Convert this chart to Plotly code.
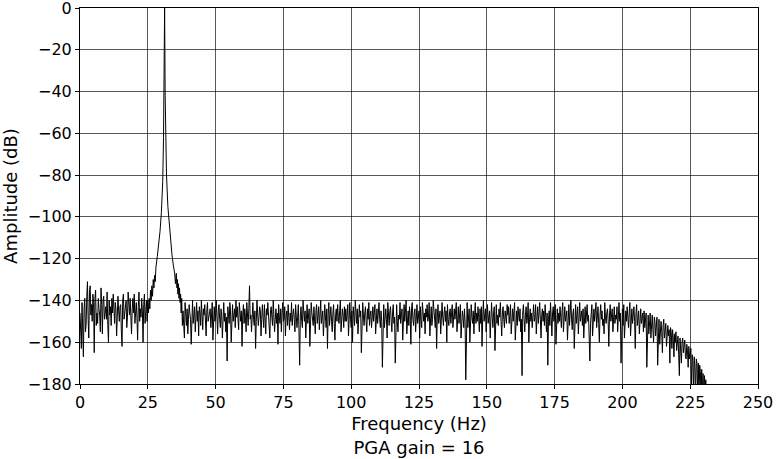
import numpy as np
import plotly.graph_objects as go

BIN = 0.25  # FFT bin spacing (Hz)

# Noise floor below the tone, 0.0 .. 25.0 Hz
floor_low_start = 0.0
floor_low = [
    -146, -158, -163, -141, -150, -167, -144, -139, -155, -152,
    -138, -131, -149, -158, -136, -133, -147, -142, -150, -137,
    -141, -165, -139, -135, -152, -146, -151, -139, -144, -147,
    -155, -134, -142, -156, -140, -138, -149, -145, -143, -149,
    -136, -152, -160, -140, -147, -143, -152, -139, -146, -137,
    -148, -151, -141, -144, -157, -149, -138, -145, -150, -143,
    -142, -155, -162, -140, -137, -149, -146, -141, -140, -153,
    -148, -136, -143, -147, -139, -151, -156, -144, -139, -146,
    -137, -151, -145, -141, -148, -159, -143, -136, -150, -144,
    -148, -139, -145, -160, -142, -137, -151, -146, -140, -150,
    -140,
]

# Tone around 31 Hz (with a little noise on its skirts)
peak_freq = [25.25, 25.5, 25.75, 26.0, 26.25, 26.5, 26.75, 27.0, 27.25, 27.5,
             27.75, 28.0, 28.5, 29.0, 29.5, 30.0, 30.5, 30.8, 31.0, 31.2,
             31.4, 31.6, 31.9, 32.4, 32.9, 33.4, 33.9, 34.4, 34.9, 35.2,
             35.5, 35.75, 35.9, 36.1, 36.3, 36.5, 36.7, 36.9, 37.1, 37.3,
             37.5, 37.75]
peak_amp = [-146, -139, -144, -135, -140, -133, -138, -130, -134, -128,
            -131, -124, -119, -114, -107, -98, -83, -62, -42, 0,
            -42, -62, -80, -95, -104, -112, -118, -123, -127, -132,
            -127, -134, -130, -137, -132, -139, -134, -141, -137, -146,
            -139, -152]

# Noise floor above the tone, 38.0 .. 207.75 Hz
floor_mid_start = 38.0
floor_mid = [
    -145, -152, -158, -141, -147, -152, -144, -156, -149, -142,
    -146, -149, -161, -143, -140, -151, -147, -143, -155, -148,
    -141, -150, -145, -157, -143, -146, -152, -140, -149, -154,
    -144, -147, -142, -153, -157, -145, -141, -150, -148, -144,
    -144, -153, -147, -141, -159, -146, -143, -150, -148, -140,
    -152, -156, -145, -142, -149, -153, -144, -147, -158, -143,
    -141, -150, -146, -155, -148, -169, -143, -147, -151, -141,
    -145, -160, -149, -142, -150, -146, -144, -153, -140, -148,
    -143, -149, -154, -141, -146, -150, -145, -162, -147, -142,
    -151, -144, -148, -155, -141, -147, -152, -144, -133, -149,
    -147, -155, -143, -141, -149, -152, -145, -163, -150, -140,
    -146, -152, -148, -143, -145, -157, -149, -142, -148, -153,
    -142, -150, -156, -144, -147, -141, -149, -153, -158, -145,
    -143, -148, -152, -140, -147, -155, -149, -144, -151, -146,
    -161, -142, -148, -151, -144, -155, -146, -141, -150, -149,
    -143, -157, -147, -145, -152, -142, -148, -154, -146, -150,
    -141, -152, -147, -144, -149, -155, -142, -146, -153, -148,
    -142, -155, -171, -147, -143, -150, -153, -140, -146, -150,
    -145, -158, -149, -142, -151, -147, -144, -162, -150, -141,
    -146, -149, -152, -143, -148, -156, -145, -142, -151, -147,
    -143, -154, -148, -140, -151, -146, -145, -157, -149, -142,
    -148, -153, -144, -163, -147, -141, -152, -149, -143, -150,
    -155, -146, -142, -151, -159, -147, -144, -150, -142, -148,
    -151, -145, -140, -155, -149, -144, -147, -153, -143, -150,
    -144, -150, -147, -142, -157, -148, -141, -149, -153, -145,
    -160, -143, -148, -152, -140, -146, -151, -144, -156, -149,
    -142, -148, -145, -165, -150, -141, -147, -152, -146, -143,
    -150, -155, -144, -149, -141, -152, -147, -145, -153, -148,
    -143, -150, -146, -142, -156, -148, -144, -151, -147, -141,
    -149, -153, -145, -150, -172, -146, -142, -153, -148, -144,
    -149, -158, -141, -147, -152, -145, -143, -150, -155, -146,
    -142, -151, -148, -170, -146, -142, -150, -155, -147, -149,
    -141, -151, -147, -144, -159, -148, -142, -150, -146, -140,
    -156, -149, -145, -152, -143, -147, -161, -144, -141, -149,
    -152, -146, -144, -155, -148, -142, -151, -147, -145, -158,
    -143, -149, -153, -141, -147, -150, -146, -156, -144, -148,
    -142, -150, -148, -141, -157, -147, -143, -152, -149, -140,
    -146, -149, -153, -144, -163, -148, -142, -151, -147, -145,
    -156, -150, -141, -148, -152, -146, -143, -150, -145, -160,
    -142, -149, -152, -146, -144, -151, -147, -142, -153, -148,
    -144, -149, -146, -141, -155, -148, -143, -151, -147, -142,
    -158, -150, -145, -148, -153, -144, -150, -178, -147, -141,
    -153, -146, -144, -160, -149, -142, -148, -151, -145, -156,
    -147, -141, -151, -146, -150, -143, -148, -155, -144, -151,
    -143, -162, -148, -140, -150, -146, -144, -155, -149, -142,
    -151, -147, -145, -158, -150, -141, -148, -153, -146, -143,
    -164, -149, -142, -151, -147, -152, -144, -148, -141, -150,
    -157, -146, -143, -149, -153, -145, -148, -151, -142, -147,
    -143, -151, -147, -142, -156, -149, -144, -150, -146, -141,
    -159, -148, -145, -152, -143, -147, -150, -144, -155, -149,
    -176, -146, -142, -149, -155, -147, -143, -151, -148, -141,
    -160, -149, -144, -150, -146, -153, -145, -142, -150, -148,
    -142, -156, -148, -143, -151, -146, -141, -149, -158, -147,
    -144, -150, -145, -152, -142, -148, -155, -146, -171, -149,
    -145, -152, -141, -148, -157, -146, -143, -150, -147, -142,
    -161, -149, -144, -151, -146, -150, -143, -148, -153, -145,
    -141, -155, -148, -143, -150, -146, -145, -159, -149, -142,
    -152, -147, -140, -149, -154, -146, -144, -163, -148, -142,
    -151, -146, -143, -156, -149, -141, -150, -147, -145, -152,
    -144, -158, -149, -143, -151, -146, -142, -150, -147, -158,
    -169, -151, -146, -142, -157, -149, -144, -150, -147, -141,
    -153, -148, -143, -151, -160, -147, -142, -149, -145, -152,
    -149, -156, -141, -148, -151, -146, -144, -150, -162, -147,
    -142, -150, -148, -144, -155, -146, -143, -151, -147, -149,
    -143, -155, -148, -141, -150, -146, -170, -149, -144, -152,
    -142, -158, -147, -145, -150, -143, -148, -153, -146, -141,
    -157, -149, -144, -151, -147, -143, -150, -163, -146, -142,
    -152, -149, -145, -156, -148, -144, -151, -147, -146, -155,
]

# Anti-alias filter roll-off, 208.0 .. 231.0 Hz
floor_roll_start = 208.0
floor_roll = [
    -145, -153, -148, -146, -172, -150, -147, -156, -149, -146,
    -158, -151, -147, -154, -160, -148, -150, -157, -152, -148,
    -171, -153, -149, -161, -151, -150, -155, -165, -152, -149,
    -158, -153, -151, -162, -155, -152, -157, -154, -170, -153,
    -155, -163, -154, -158, -167, -156, -160, -155, -164, -158,
    -157, -166, -176, -158, -163, -170, -160, -158, -165, -162,
    -159, -167, -168, -161, -164, -172, -162, -168, -165, -163,
    -181, -166, -169, -184, -167, -172, -186, -168, -170, -183,
    -170, -187, -171, -174, -189, -173, -185, -175, -190, -176,
    -182, -178, -184,
]

x_ticks = [0, 25, 50, 75, 100, 125, 150, 175, 200, 225, 250]
y_ticks = [0, -20, -40, -60, -80, -100, -120, -140, -160, -180]


def bins(start, n):
    return list(start + BIN * np.arange(n))


freq = (bins(floor_low_start, len(floor_low)) + peak_freq
        + bins(floor_mid_start, len(floor_mid))
        + bins(floor_roll_start, len(floor_roll)))
amp = floor_low + peak_amp + floor_mid + floor_roll

fig = go.Figure()
fig.add_trace(go.Scatter(x=freq, y=amp, mode="lines",
                         line=dict(color="black", width=1.0),
                         showlegend=False, hoverinfo="skip"))

tick_font = dict(family="DejaVu Sans", size=16, color="black")
title_font = dict(family="DejaVu Sans", size=18, color="black")
axis_common = dict(
    showline=True, linecolor="black", linewidth=1, mirror=True,
    ticks="outside", ticklen=4, tickwidth=1, tickcolor="black",
    showgrid=True, gridcolor="rgba(0,0,0,0.65)", gridwidth=0.8,
    zeroline=False, tickfont=tick_font, automargin=False,
    ticklabeloverflow="allow",
)
fig.update_xaxes(range=[0, 250], tickvals=x_ticks,
                 title=dict(text="Frequency (Hz)<br>PGA gain = 16", font=title_font, standoff=6),
                 **axis_common)
fig.update_yaxes(range=[-180, 0], tickvals=y_ticks,
                 title=dict(text="Amplitude (dB)", font=title_font, standoff=6),
                 **axis_common)
fig.update_layout(
    width=778, height=459,
    margin=dict(l=80, r=20, t=8, b=75),
    paper_bgcolor="white", plot_bgcolor="white",
    font=tick_font,
)
# remove the default 8 px page margin so the figure fills the window exactly
fig.write_html("out.html", config={"displayModeBar": False},
               post_script="document.body.style.margin='0px';")
